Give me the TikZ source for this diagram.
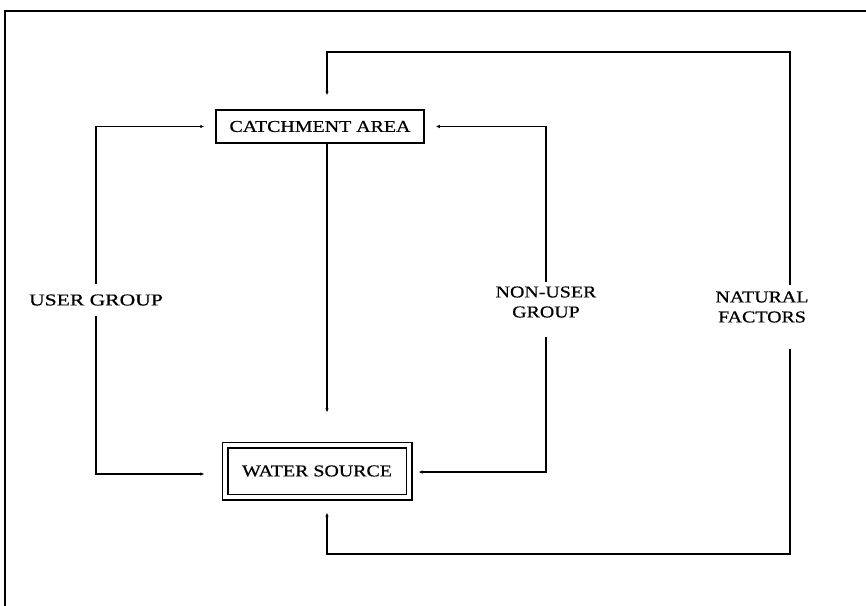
\documentclass[tikz,border=0pt]{standalone}
\usepackage{fontspec}
\setmainfont{Liberation Serif}[FakeStretch=1.2,FakeBold=0.6]
\newfontfamily\ugwidefont{Liberation Serif}[FakeStretch=1.3,FakeBold=0.6]
\usetikzlibrary{arrows.meta,calc}
\begin{document}
\begin{tikzpicture}[x=1pt,y=-1pt,
  line width=1.5pt,
  conn/.style={line width=1.5pt,-{Latex[length=4pt,width=3.5pt]}},
  txt/.style={font=\fontsize{16.6}{20}\selectfont,align=center},
  lbl/.style={txt,inner xsep=0pt,inner ysep=4pt},
  box/.style={txt,draw,line width=1.5pt,inner sep=0pt}]
\useasboundingbox (0,0) rectangle (866,605);
% frame (only top and left edges are visible)
\coordinate (fbl) at (5,612);
\coordinate (ftl) at (5,11);
\coordinate (ftr) at (872,11);
\draw[line width=1.1pt] (fbl) -- (ftl) -- (ftr);
% boxes
\node[box,minimum width=208pt,minimum height=33pt] (ca) at (320,126.5) {CATCHMENT AREA};
\node[box,double,double distance=4.4pt,line width=1.3pt,minimum width=184pt,minimum height=52pt] (ws) at (317,471) {WATER SOURCE};
% labels
\node[lbl,inner ysep=10pt,font=\ugwidefont\fontsize{16.6}{20}\selectfont] (ug) at (96,300) {USER GROUP};
\node[lbl] (nu) at (546,302) {NON-USER\\GROUP};
\node[lbl] (nf) at (762,307) {NATURAL\\FACTORS};
% corner coordinates
\coordinate (mid) at (327,0);
\coordinate (nfx) at (790,0);
\coordinate (c1) at (790,52);
\coordinate (c2) at (790,554);
\coordinate (wl) at ($(ws.west)+(0,3)$);
\coordinate (wr) at ($(ws.east)+(0,1)$);
% connectors
\draw[conn,shorten >=14pt,shorten <=2pt] (nf.north -| nfx) -- (c1) -| (ca.north -| mid);
\draw[conn,shorten >=15pt,shorten <=22pt] (nf.south -| nfx) -- (c2) -| (ws.south -| mid);
\draw[conn,shorten >=11pt] (ug.north) |- (ca.west);
\draw[conn,shorten >=20pt] (ug.south) |- (wl);
\draw[conn,shorten >=11pt] (nu.north) |- (ca.east);
\draw[conn,shorten >=9pt,shorten <=15pt] (nu.south) |- (wr);
\draw[conn,shorten >=32pt] (ca.south -| mid) -- (ws.north -| mid);
\end{tikzpicture}
\end{document}
